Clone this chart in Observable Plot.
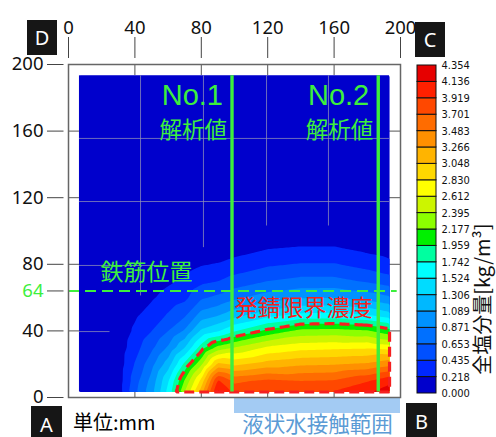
<!DOCTYPE html>
<html><head><meta charset="utf-8">
<script src="https://cdn.jsdelivr.net/npm/d3@7"></script>
<script src="https://cdn.jsdelivr.net/npm/@observablehq/plot@0.6"></script>
<style>
body{margin:0;background:#fff;}
#wrap{position:relative;width:496px;height:437px;overflow:hidden;font-family:"Noto Sans","Noto Sans CJK JP",sans-serif;}
#wrap svg{position:absolute;left:0;top:0;overflow:visible;}
.box{position:absolute;background:#161616;color:#fff;font:20px "Noto Sans",sans-serif;display:flex;align-items:center;justify-content:center;}
.unit{position:absolute;left:73px;top:410px;font:20px "Noto Sans CJK JP",sans-serif;color:#000;line-height:24px;white-space:nowrap;}
</style></head><body><div id="wrap"></div>
<script>
// ---- data ----
const xTicks = [0, 40, 80, 120, 160, 200];
const yTicks = [0, 40, 80, 120, 160, 200];
const innerTicks = [40, 80, 120, 160];
const rebarY = 64;
const colorbarLabels = ["0.000","0.218","0.435","0.653","0.871","1.089","1.306","1.524","1.742","1.959",
  "2.177","2.395","2.612","2.830","3.048","3.266","3.483","3.701","3.919","4.136","4.354"];
const binColors = ["#0000cc","#0028ff","#0050ff","#0070ff","#0092ff","#00b8ff","#00dcff","#00ffff","#00ffa0","#00f000",
  "#8cff00","#ccf500","#ffff00","#ffd800","#ffb400","#ff9000","#ff6c00","#ff4800","#ff2000","#e60000"];
const gridX = [0, 20, 30, 40, 50, 60, 70, 80, 90, 100, 120, 140, 160, 180, 200];
const gridY = [0, 10, 20, 30, 40, 50, 60, 70, 80, 90, 100, 120, 200];
const chloride = [
  [0.02,0.05,0.10,0.62,1.05,1.65,2.50,3.30,4.30,3.95,4.00,4.00,4.05,4.20,4.30],
  [0.02,0.05,0.10,0.55,0.95,1.50,2.20,2.90,3.95,3.65,3.75,3.70,3.72,3.90,4.15],
  [0.02,0.04,0.09,0.45,0.80,1.20,1.80,2.35,3.10,3.00,3.15,3.23,3.25,3.30,3.45],
  [0.01,0.04,0.08,0.35,0.60,0.90,1.30,1.85,2.25,2.40,2.65,2.75,2.78,2.80,2.70],
  [0.01,0.03,0.06,0.26,0.43,0.65,0.90,1.35,1.50,1.72,2.02,2.24,2.26,2.20,1.96],
  [0.00,0.02,0.04,0.18,0.30,0.45,0.60,0.95,1.05,1.20,1.42,1.55,1.57,1.50,1.30],
  [0.00,0.01,0.02,0.10,0.19,0.30,0.38,0.62,0.70,0.82,0.98,1.07,1.08,1.00,0.85],
  [0.00,0.00,0.01,0.05,0.10,0.18,0.25,0.38,0.43,0.52,0.65,0.72,0.72,0.62,0.50],
  [0.00,0.00,0.00,0.01,0.04,0.08,0.12,0.20,0.23,0.29,0.40,0.45,0.45,0.35,0.22],
  [0.00,0.00,0.00,0.00,0.00,0.02,0.03,0.07,0.09,0.12,0.20,0.23,0.23,0.15,0.08],
  [0.00,0.00,0.00,0.00,0.00,0.00,0.00,0.00,0.02,0.03,0.05,0.06,0.06,0.03,0.00],
  [0,0,0,0,0,0,0,0,0,0,0,0,0,0,0],
  [0,0,0,0,0,0,0,0,0,0,0,0,0,0,0]
];
const analysisLines = [{x: 98.5, name: "No.1"}, {x: 186.6, name: "No.2"}];
const contactRange = [100, 200];
const fieldExtent = {x1: 6.6, x2: 193.4, y1: 3.3, y2: 193.2};
const innerGridV = [{x: 43.4, y1: 61}, {x: 81.3, y1: 90}, {x: 119.3, y1: 103}, {x: 156.6, y1: 103}];
const innerGridH = [{y: 155.6, x2: 193.4}, {y: 117.7, x2: 193.4}, {y: 79.3, x2: 55}, {y: 39.6, x2: 25}];
const corrosionLimit = 1.959;
const unitText = "単位:mm";
const contactText = "液状水接触範囲";
const rebarText = "鉄筋位置";
const limitText = "発錆限界濃度";
const valueText = "解析値";
const colorbarTitle = "全塩分量[kg/m³]";
const cornerLabels = [
  {t: "D", left: 27, top: 20, w: 30, h: 35},
  {t: "C", left: 415, top: 22, w: 30, h: 35},
  {t: "A", left: 31, top: 406, w: 31, h: 36},
  {t: "B", left: 406, top: 403, w: 31, h: 36}
];

// ---- build ----
const levels = colorbarLabels.map(Number);
const thresholds = levels.slice(0, -1);
const points = gridY.flatMap((y, j) => gridX.map((x, i) => ({x, y, v: chloride[j][i]})));
const green = "#3def3d";
const red = "#f52020";
const fontMain = '"Noto Sans","Noto Sans CJK JP",sans-serif';
const fontJP = '"Noto Sans CJK JP",sans-serif';

const main = Plot.plot({
  width: 496, height: 437,
  marginLeft: 68, marginRight: 96, marginTop: 64, marginBottom: 40,
  x: {domain: [0, 200]},
  y: {domain: [0, 200]},
  color: {type: "threshold", domain: levels.slice(1, -1), range: binColors},
  style: {fontFamily: fontMain, fontSize: "18.5px", color: "#111", background: "transparent", overflow: "visible"},
  marks: [
    Plot.ruleX(innerTicks, {y1: 0, y2: 6.6, stroke: "#555"}),
    Plot.ruleX(innerTicks, {y1: 193.4, y2: 200, stroke: "#555"}),
    Plot.ruleY(innerTicks, {x1: 0, x2: 6.6, stroke: "#555"}),
    Plot.ruleY(innerTicks, {x1: 193.4, x2: 200, stroke: "#555"}),
    Plot.rect([fieldExtent], {x1: "x1", x2: "x2", y1: "y1", y2: "y2", fill: binColors[0]}),
    Plot.contour(points, {x: "x", y: "y", value: "v", fill: "value", thresholds, interpolate: "barycentric", ...fieldExtent}),
    Plot.ruleX(innerGridV, {x: "x", y1: "y1", y2: fieldExtent.y2, stroke: "#9090b8", strokeOpacity: 0.75}),
    Plot.ruleY(innerGridH, {y: "y", x1: fieldExtent.x1, x2: "x2", stroke: "#9090b8", strokeOpacity: 0.75}),
    Plot.contour(points, {x: "x", y: "y", value: "v", thresholds: [corrosionLimit], interpolate: "barycentric", ...fieldExtent,
      fill: "none", stroke: red, strokeWidth: 3.2, strokeDasharray: "10,5"}),
    Plot.ruleX(analysisLines, {x: "x", y1: fieldExtent.y1, y2: fieldExtent.y2, stroke: green, strokeWidth: 3.4}),
    Plot.ruleY([rebarY], {x1: 0, x2: 198, stroke: green, strokeWidth: 2, strokeDasharray: "11,6"}),
    Plot.text(analysisLines, {x: "x", y: 181.2, text: "name", textAnchor: "end", dx: -9, fill: green, fontSize: 29,
      fontFamily: '"Liberation Sans","Noto Sans",sans-serif'}),
    Plot.text(analysisLines, {x: "x", y: 160.3, text: () => valueText, textAnchor: "end", dx: -5, fill: green, fontSize: 22.5, fontFamily: fontJP}),
    Plot.text([rebarText], {x: 47, y: rebarY, dy: -18, text: d => d, fill: green, fontSize: 23, fontFamily: fontJP}),
    Plot.text([limitText], {x: 141.6, y: 53.5, text: d => d, fill: red, fontSize: 23, fontFamily: fontJP}),
    Plot.rect([contactRange], {x1: d => d[0], x2: d => d[1], y1: -0.6, y2: -9.6, fill: "#a3cbf3"}),
    Plot.text([contactText], {x: (contactRange[0] + contactRange[1]) / 2, y: -16.3, text: d => d, fill: "#5b9bd5", fontSize: 21.5, fontFamily: fontJP}),
    Plot.axisX(xTicks, {anchor: "top", tickSize: 21, tickPadding: 3, dy: -7, label: null, stroke: "#444", fill: "#111"}),
    Plot.axisY(yTicks, {anchor: "left", tickSize: 16.5, tickPadding: 4, dx: -4.5, label: null, stroke: "#444", fill: "#111"}),
    Plot.axisY([rebarY], {anchor: "left", tickSize: 16.5, tickPadding: 4, dx: -4.5, label: null, stroke: "#444", fill: green}),
    Plot.frame({stroke: "#666", strokeWidth: 1.5})
  ]
});

const bins = thresholds.map((lo, i) => ({lo, hi: levels[i + 1], c: binColors[i]}));
const cbar = Plot.plot({
  width: 496, height: 437,
  marginLeft: 417, marginRight: 60, marginTop: 65, marginBottom: 44,
  x: {domain: [0, 1], axis: null},
  y: {domain: [0, levels[levels.length - 1]]},
  color: {type: "identity"},
  style: {fontFamily: fontMain, color: "#111", background: "transparent", overflow: "visible"},
  marks: [
    Plot.rect(bins, {x1: 0, x2: 1, y1: "lo", y2: "hi", fill: d => d.c, stroke: "#111", strokeWidth: 1}),
    Plot.axisY(levels, {anchor: "right", tickSize: 0, tickPadding: 5, tickFormat: d => d.toFixed(3), label: null,
      fontSize: 11, fontFamily: '"Liberation Sans Narrow","DejaVu Sans Condensed","Liberation Sans",sans-serif'}),
    Plot.text([colorbarTitle], {frameAnchor: "right", dx: 47, dy: -6, rotate: -90, text: d => d, fontSize: 20, fontFamily: fontJP, fill: "#111"})
  ]
});

const wrap = document.getElementById("wrap");
wrap.appendChild(main);
wrap.appendChild(cbar);
for (const c of cornerLabels) {
  const d = document.createElement("div");
  d.className = "box";
  d.textContent = c.t;
  Object.assign(d.style, {left: c.left + "px", top: c.top + "px", width: c.w + "px", height: c.h + "px"});
  wrap.appendChild(d);
}
const u = document.createElement("div");
u.className = "unit";
u.textContent = unitText;
wrap.appendChild(u);
</script></body></html>
